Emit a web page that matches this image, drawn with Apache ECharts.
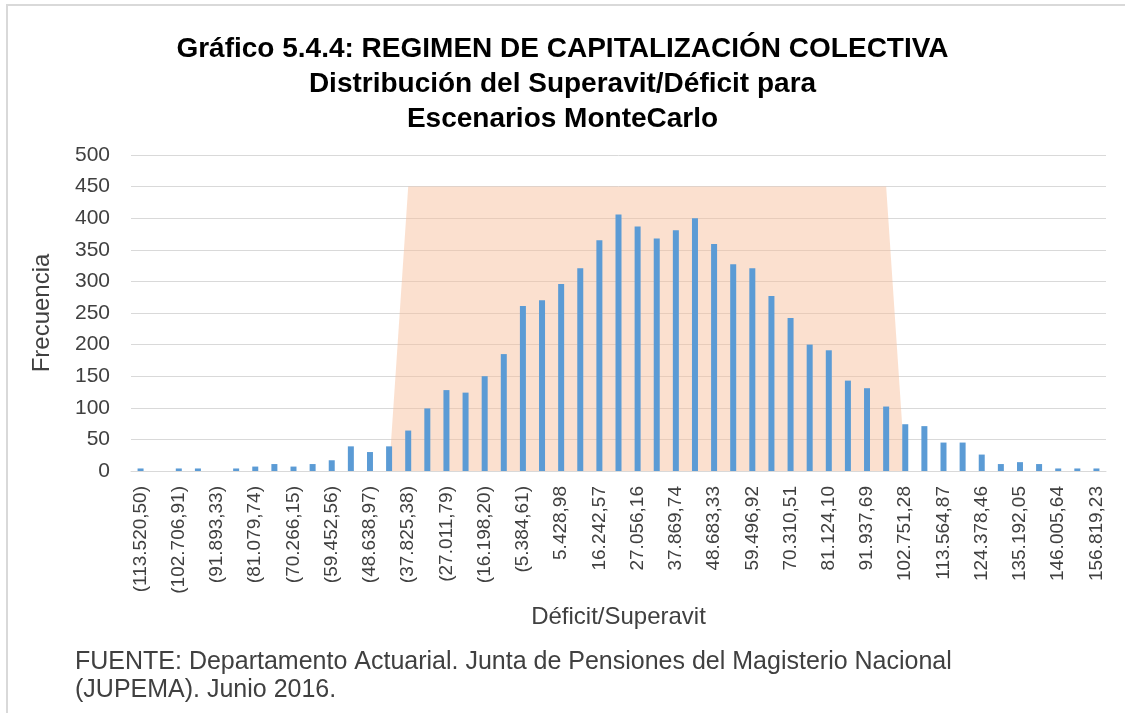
<!DOCTYPE html>
<html>
<head>
<meta charset="utf-8">
<script src="https://cdn.jsdelivr.net/npm/echarts@6/dist/echarts.min.js"></script>
<style>
  html, body { margin: 0; padding: 0; background: #fff; }
  #chart { width: 1125px; height: 713px; }
</style>
</head>
<body>
<div id="chart"></div>
<script>
// clases del histograma (se muestra una de cada dos)
var clases = [
    '(113.520,50)', '(108.113,70)', '(102.706,91)', '(97.300,12)', '(91.893,33)',
    '(86.486,53)', '(81.079,74)', '(75.672,95)', '(70.266,15)', '(64.859,36)',
    '(59.452,56)', '(54.045,77)', '(48.638,97)', '(43.232,18)', '(37.825,38)',
    '(32.418,59)', '(27.011,79)', '(21.605,00)', '(16.198,20)', '(10.791,41)',
    '(5.384,61)', '22,18', '5.428,98', '10.835,77', '16.242,57',
    '21.649,36', '27.056,16', '32.462,95', '37.869,74', '43.276,54',
    '48.683,33', '54.090,13', '59.496,92', '64.903,72', '70.310,51',
    '75.717,31', '81.124,10', '86.530,90', '91.937,69', '97.344,49',
    '102.751,28', '108.158,08', '113.564,87', '118.971,67', '124.378,46',
    '129.785,26', '135.192,05', '140.598,85', '146.005,64', '151.412,44',
    '156.819,23'
];

var frecuencia = [
    4, 0, 4, 4, 0, 4, 7, 11, 7, 11,
    17, 39, 30, 39, 64, 99, 128, 124, 150, 185,
    261, 270, 296, 321, 365, 406, 387, 368, 381, 400,
    359, 327, 321, 277, 242, 200, 191, 143, 131, 102,
    74, 71, 45, 45, 26, 11, 14, 11, 4, 4,
    4
];

// franja sombreada (rango central)
var rango = [
    0, 0, 0, 0, 0, 0, 0, 0, 0, 0,
    0, 0, 0, 0, 450, 450, 450, 450, 450, 450,
    450, 450, 450, 450, 450, 450, 450, 450, 450, 450,
    450, 450, 450, 450, 450, 450, 450, 450, 450, 450,
    0, 0, 0, 0, 0, 0, 0, 0, 0, 0,
    0
];

var yTicks = { min: 0, max: 500, interval: 50 };

var myChart = echarts.init(document.getElementById('chart'));
var fuente = 'Liberation Sans';
var option = {
    backgroundColor: '#fff',
    animation: false,
    title: {
        text: 'Gráfico 5.4.4: REGIMEN DE CAPITALIZACIÓN COLECTIVA\nDistribución del Superavit/Déficit para\nEscenarios MonteCarlo',
        left: 'center',
        top: 27,
        textStyle: {
            fontFamily: fuente,
            fontWeight: 'bold',
            fontSize: 28,
            lineHeight: 35,
            color: '#000'
        }
    },
    grid: {
        left: 131,
        right: 19,
        top: 155,
        bottom: 242
    },
    xAxis: {
        type: 'category',
        data: clases,
        name: 'Déficit/Superavit',
        nameLocation: 'middle',
        nameGap: 134,
        nameTextStyle: {
            fontFamily: fuente,
            fontSize: 24,
            color: '#404040'
        },
        axisLine: {
            lineStyle: { color: '#d9d9d9', width: 1 }
        },
        axisTick: { show: false },
        axisLabel: {
            interval: 1,
            rotate: 90,
            margin: 15,
            fontFamily: fuente,
            fontSize: 19,
            color: '#404040'
        }
    },
    yAxis: {
        type: 'value',
        min: yTicks.min,
        max: yTicks.max,
        interval: yTicks.interval,
        name: 'Frecuencia',
        nameLocation: 'middle',
        nameGap: 77,
        nameRotate: 90,
        nameTextStyle: {
            fontFamily: fuente,
            fontSize: 24,
            color: '#404040'
        },
        axisLine: { show: false },
        axisTick: { show: false },
        axisLabel: {
            margin: 21,
            fontFamily: fuente,
            fontSize: 21,
            color: '#404040'
        },
        splitLine: {
            lineStyle: { color: '#d9d9d9', width: 1 }
        }
    },
    series: [{
        name: 'rango',
        type: 'line',
        data: rango,
        symbol: 'none',
        lineStyle: { width: 0, opacity: 0 },
        areaStyle: { color: 'rgba(246,190,155,0.48)', opacity: 1 },
        z: 1
    }, {
        name: 'frecuencia',
        type: 'bar',
        data: frecuencia,
        barWidth: 6,
        itemStyle: { color: '#5b9bd5' },
        z: 3
    }],
    graphic: [{
        type: 'rect',
        shape: { x: 7, y: 5, width: 1140, height: 720 },
        style: { fill: 'none', stroke: '#d9d9d9', lineWidth: 2 },
        silent: true
    }, {
        type: 'text',
        left: 75,
        top: 648,
        style: {
            text: 'FUENTE: Departamento Actuarial. Junta de Pensiones del Magisterio Nacional\n(JUPEMA). Junio 2016.',
            fontFamily: fuente,
            fontSize: 25,
            lineHeight: 28,
            fill: '#404040'
        }
    }]
};
myChart.setOption(option);
window.addEventListener('resize', function () {
    myChart.resize();
});
</script>
</body>
</html>
